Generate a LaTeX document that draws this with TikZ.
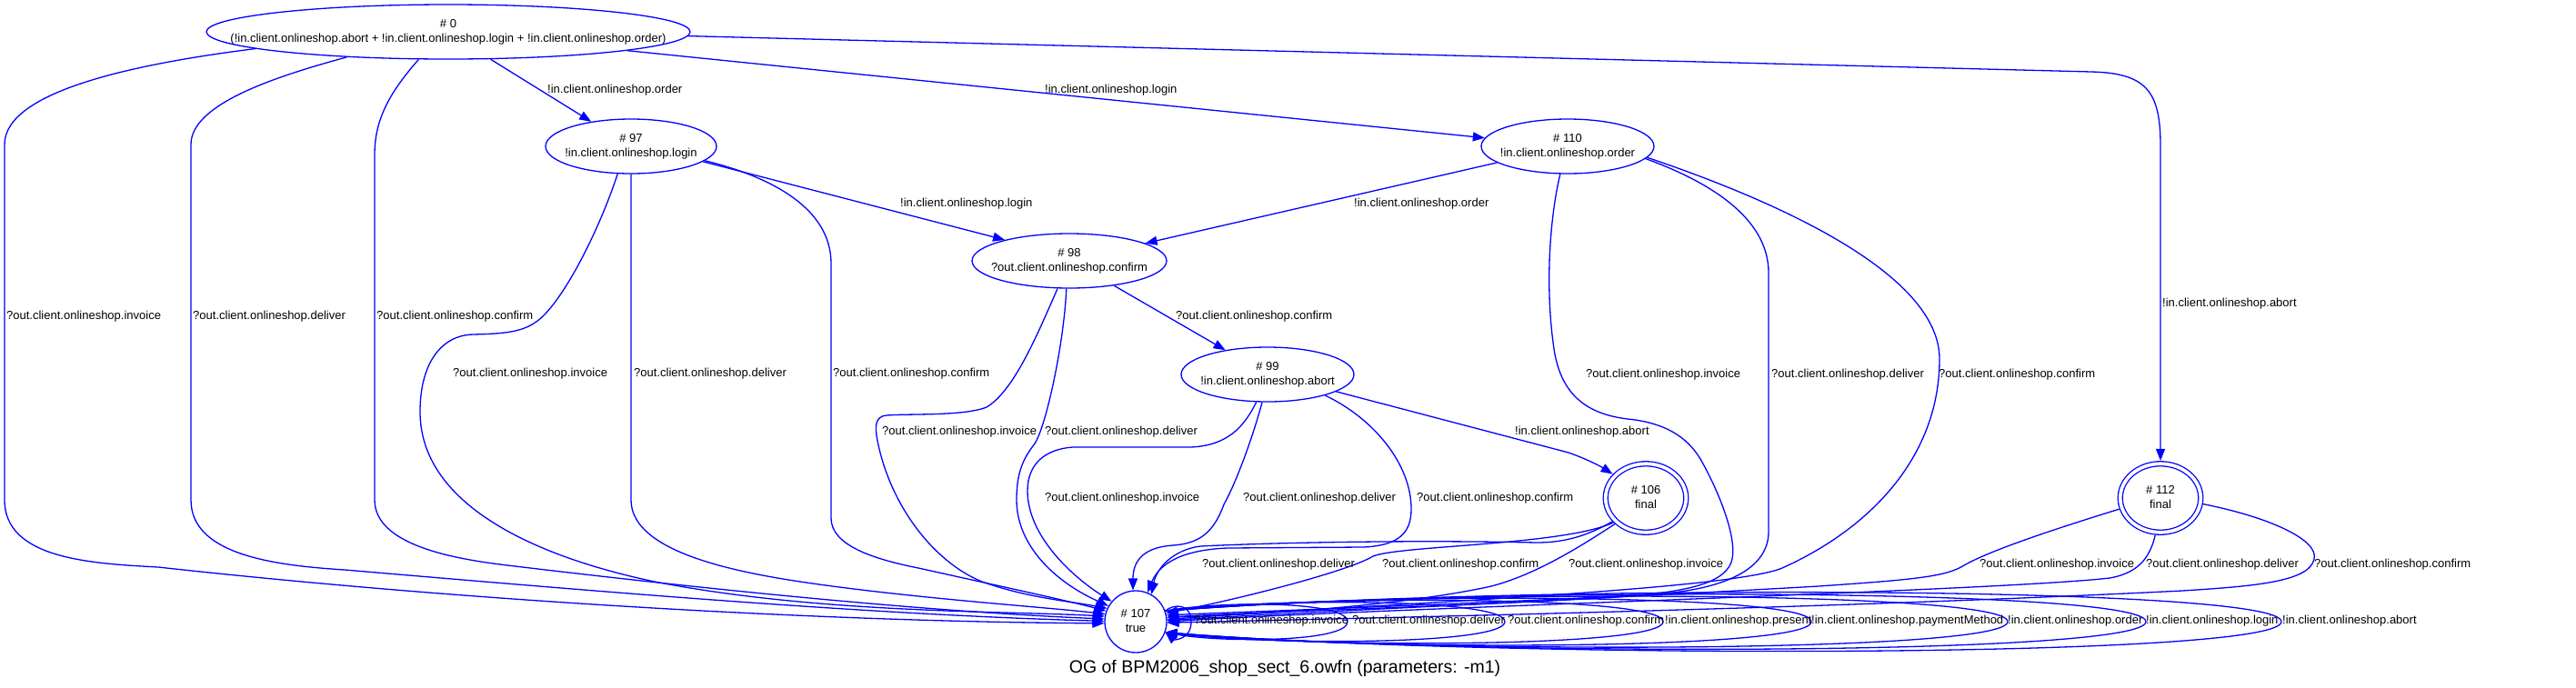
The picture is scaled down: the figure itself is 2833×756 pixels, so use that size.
\documentclass[tikz,border=0pt]{standalone}
\usepackage{fontspec}
\setmainfont{Liberation Sans}
\usetikzlibrary{arrows.meta, shapes.geometric}
\newcommand{\statetext}[2]{\makebox[0pt]{\begin{tabular}{@{}c@{}}#1\\#2\end{tabular}}}

\begin{document}
\begin{tikzpicture}[
    x=1pt, y=-1pt,
    state/.style={
        ellipse,
        draw=blue,
        line width=1.3pt,
        inner sep=0pt,
        minimum height=60pt,
        font=\fontsize{13}{16}\selectfont
    },
    final/.style={
        state,
        double=white,
        double distance=3.7pt,
        outer sep=3.3pt,
        minimum width=88.5pt,
        minimum height=75.5pt
    },
    trans/.style={
        -{Triangle[length=13pt, width=10pt]},
        draw=blue,
        line width=1.3pt
    },
    lbl/.style={
        anchor=west,
        inner sep=0pt,
        text height=9.4pt,
        text depth=2.7pt,
        font=\fontsize{13}{16}\selectfont
    }
]
    \useasboundingbox (0,0) rectangle (2833,756);

    \node[state, minimum width=532pt] (n0) at (493,35) {\statetext{\# 0}{(!in.client.onlineshop.abort + !in.client.onlineshop.login + !in.client.onlineshop.order)}};
    \node[state, minimum width=188pt] (n97) at (694,161) {\statetext{\# 97}{!in.client.onlineshop.login}};
    \node[state, minimum width=190pt] (n110) at (1724,161) {\statetext{\# 110}{!in.client.onlineshop.order}};
    \node[state, minimum width=214pt] (n98) at (1176,287) {\statetext{\# 98}{?out.client.onlineshop.confirm}};
    \node[state, minimum width=190pt] (n99) at (1394,412) {\statetext{\# 99}{!in.client.onlineshop.abort}};
    \node[final] (n106) at (1810,548) {\statetext{\# 106}{final}};
    \node[final] (n112) at (2376,548) {\statetext{\# 112}{final}};
    \node[state, minimum width=68pt, minimum height=68pt] (n107) at (1249,684) {\statetext{\# 107}{true}};
    \node[font=\fontsize{19.5}{23}\selectfont] (title) at (1413,735) {OG of BPM2006\_shop\_sect\_6.owfn (parameters: -m1)};

    \draw[trans] (n0.-33) -- (n97);
    \draw[trans] (n0.-6) -- (n110);
    \draw[trans] (n0.-1) -- (2300,79) .. controls (2360,80.5) and (2376,100) .. (2376,160) -- (n112);
    \draw[trans] (n97.-12) -- (n98.162);
    \draw[trans] (n110.193) -- (n98.13);
    \draw[trans] (n98.-29) -- (n99.150);
    \draw[trans] (n99.-14) -- (1725,498) .. controls (1745,505) and (1760,513) .. (n106.144);

    \draw[trans] (n0.185) .. controls (150,70) and (5,100) .. (5,159) -- (5,550) .. controls (5,615) and (100,620) .. (174,624) .. controls (500,660) and (900,684) .. (n107.183);
    \draw[trans] (n0.194) .. controls (300,85) and (210,115) .. (210,159) -- (210,550) .. controls (210,610) and (300,622) .. (379,627) .. controls (650,650) and (950,676) .. (n107.179);
    \draw[trans] (n0.223) .. controls (430,100) and (412,130) .. (412,170) -- (412,550) .. controls (412,600) and (500,615) .. (558,622) .. controls (750,645) and (1000,672) .. (n107.175);

    \draw[trans] (n97.244) .. controls (660,250) and (625,320) .. (598,347) .. controls (580,365) and (560,367) .. (520,368) .. controls (485,369) and (462,400) .. (462,453) .. controls (462,560) and (600,615) .. (720,640) .. controls (900,675) and (1100,672) .. (n107.170);
    \draw[trans] (n97.south) -- (694,550) .. controls (694,600) and (780,625) .. (880,640) .. controls (1000,658) and (1150,668) .. (n107.166);
    \draw[trans] (n97.-11) .. controls (850,195) and (914,230) .. (914,290) -- (914,570) .. controls (914,600) and (960,615) .. (1010,625) .. controls (1100,645) and (1170,660) .. (n107.160);

    \draw[trans] (n98.247) .. controls (1140,370) and (1115,430) .. (1085,448) .. controls (1060,458) and (1000,455) .. (975,457) .. controls (962,458) and (962,470) .. (965,485) .. controls (980,560) and (1030,620) .. (1080,640) .. controls (1130,658) and (1180,662) .. (n107.155);
    \draw[trans] (n98.264) .. controls (1170,380) and (1150,470) .. (1138,488) .. controls (1125,505) and (1118,520) .. (1118,550) .. controls (1118,600) and (1160,640) .. (n107.150);

    \draw[trans] (n99.248) .. controls (1368,470) and (1350,490) .. (1310,492) -- (1180,492) .. controls (1150,494) and (1130,510) .. (1130,540) .. controls (1130,590) and (1180,635) .. (n107.140);
    \draw[trans] (n99.259) .. controls (1378,480) and (1360,530) .. (1346,555) .. controls (1335,585) and (1320,598) .. (1290,600) .. controls (1260,602) and (1246,615) .. (n107.95);
    \draw[trans] (n99.-20) .. controls (1510,460) and (1552,510) .. (1552,560) .. controls (1552,585) and (1540,600) .. (1500,602) -- (1350,603) .. controls (1300,605) and (1275,620) .. (n107.68);

    \draw[trans] (n106.215) .. controls (1745,590) and (1720,597) .. (1690,597) .. controls (1550,594) and (1400,597) .. (1320,601) .. controls (1290,605) and (1272,625) .. (n107.60);
    \draw[trans] (n106.217) .. controls (1720,600) and (1540,600) .. (1510,612) .. controls (1480,630) and (1350,662) .. (n107.16);
    \draw[trans] (n106.220) .. controls (1740,600) and (1690,632) .. (1640,645) .. controls (1550,665) and (1400,676) .. (n107.8);

    \draw[trans] (n110.255) .. controls (1702,250) and (1700,330) .. (1710,390) .. controls (1718,430) and (1740,455) .. (1790,461) .. controls (1830,465) and (1855,480) .. (1870,505) .. controls (1890,540) and (1910,590) .. (1905,615) .. controls (1900,640) and (1860,650) .. (1800,655) .. controls (1600,665) and (1400,672) .. (n107.12);
    \draw[trans] (n110.-9) .. controls (1880,200) and (1945,240) .. (1945,300) -- (1945,585) .. controls (1945,625) and (1900,645) .. (1840,652) .. controls (1700,665) and (1400,672) .. (n107.8);
    \draw[trans] (n110.-8) .. controls (1950,220) and (2133,300) .. (2133,395) .. controls (2133,500) and (2060,580) .. (1960,625) .. controls (1900,650) and (1500,665) .. (n107.4);

    \draw[trans] (n112.195) .. controls (2260,582) and (2190,605) .. (2160,622) .. controls (2140,635) and (2100,638) .. (2000,645) .. controls (1700,662) and (1400,675) .. (n107.2);
    \draw[trans] (n112.262) .. controls (2365,610) and (2355,630) .. (2320,636) .. controls (2200,650) and (1500,670) .. (n107.0);
    \draw[trans] (n112.-8) .. controls (2500,570) and (2550,595) .. (2545,615) .. controls (2540,640) and (2480,645) .. (2400,650) .. controls (2000,670) and (1500,680) .. (n107.-2);

    \foreach \tip/\h in {1310/20, 1482/23, 1655/26, 1829/29, 1992/32, 2208/35, 2360/38, 2509/41} {
        \draw[trans] (n107.20) .. controls ({1283+0.3*(\tip-1283)},{684-\h}) and (\tip,{684-\h}) .. (\tip,684) .. controls (\tip,{684+\h}) and ({1283+0.3*(\tip-1283)},{684+\h}) .. (n107.-20);
    }

    \node[lbl] (l0to97) at (602,99) {!in.client.onlineshop.order};
    \node[lbl] (l0to110) at (1149,99) {!in.client.onlineshop.login};
    \node[lbl] (l0to112) at (2378,334) {!in.client.onlineshop.abort};
    \node[lbl] (l97to98) at (990,224) {!in.client.onlineshop.login};
    \node[lbl] (l110to98) at (1489,224) {!in.client.onlineshop.order};
    \node[lbl] (l98to99) at (1293,348) {?out.client.onlineshop.confirm};
    \node[lbl] (l99to106) at (1666,475) {!in.client.onlineshop.abort};

    \foreach \x/\t in {7/invoice, 212/deliver, 414/confirm}
        \node[lbl] (l0-\t) at (\x,348) {?out.client.onlineshop.\t};
    \foreach \x/\t in {498/invoice, 697/deliver, 916/confirm}
        \node[lbl] (l97-\t) at (\x,411) {?out.client.onlineshop.\t};
    \foreach \x/\t in {970/invoice, 1149/deliver}
        \node[lbl] (l98-\t) at (\x,475) {?out.client.onlineshop.\t};
    \foreach \x/\t in {1149/invoice, 1367/deliver, 1558/confirm}
        \node[lbl] (l99-\t) at (\x,548) {?out.client.onlineshop.\t};
    \foreach \x/\t in {1744/invoice, 1948/deliver, 2132/confirm}
        \node[lbl] (l110-\t) at (\x,412) {?out.client.onlineshop.\t};
    \foreach \x/\t in {1322/deliver, 1520/confirm, 1725/invoice}
        \node[lbl] (l106-\t) at (\x,621) {?out.client.onlineshop.\t};
    \foreach \x/\t in {2177/invoice, 2360/deliver, 2545/confirm}
        \node[lbl] (l112-\t) at (\x,621) {?out.client.onlineshop.\t};
    \foreach \x/\t [count=\i] in {1313/?out.client.onlineshop.invoice, 1487/?out.client.onlineshop.deliver, 1658/?out.client.onlineshop.confirm, 1831/!in.client.onlineshop.present, 1992/!in.client.onlineshop.paymentMethod, 2208/!in.client.onlineshop.order, 2360/!in.client.onlineshop.login, 2510/!in.client.onlineshop.abort}
        \node[lbl] (loop\i) at (\x,683) {\t};
\end{tikzpicture}
\end{document}
